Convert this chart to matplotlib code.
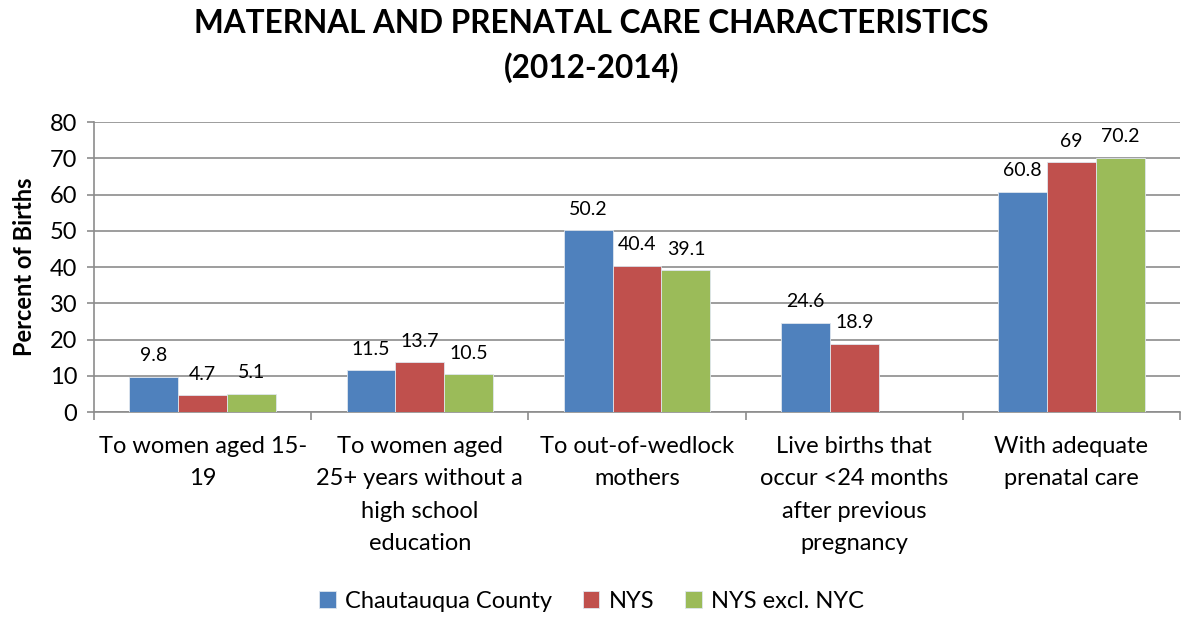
import numpy as np
import matplotlib
matplotlib.use("Agg")
import matplotlib.pyplot as plt

categories = [
    "To women aged 15-\n19",
    "To women aged\n25+ years without a\nhigh school\neducation",
    "To out-of-wedlock\nmothers",
    "Live births that\noccur <24 months\nafter previous\npregnancy",
    "With adequate\nprenatal care",
]
chautauqua = [9.8, 11.5, 50.2, 24.6, 60.8]
nys = [4.7, 13.7, 40.4, 18.9, 69.0]
nys_excl_nyc = [5.1, 10.5, 39.1, np.nan, 70.2]

series = [
    ("Chautauqua County", chautauqua, "#4F81BD"),
    ("NYS", nys, "#C0504D"),
    ("NYS excl. NYC", nys_excl_nyc, "#9BBB59"),
]

plt.rcParams["font.family"] = ["Lato", "DejaVu Sans"]

fig = plt.figure(figsize=(11.83, 6.17), dpi=100)
ax = fig.add_axes([0.0795, 0.332, 0.918, 0.470])

x = np.arange(len(categories))
width = 0.225
for i, (name, vals, color) in enumerate(series):
    pos = x + (i - 1) * width
    ax.bar(pos, vals, width, color=color, label=name,
           edgecolor="#dfe6ee", linewidth=0.6, zorder=3)
    for p, v in zip(pos, vals):
        if np.isnan(v):
            continue
        ax.annotate(f"{v:g}", (p, v), xytext=(0, 9), textcoords="offset points",
                    ha="center", va="bottom", fontsize=14)

ax.set_xlim(-0.5, len(categories) - 0.5)
ax.set_ylim(0, 80)
ax.set_yticks(range(0, 81, 10))
ax.yaxis.grid(True, color="#8c8c8c", linewidth=1.2, zorder=0)
ax.set_axisbelow(True)

ax.set_xticks(x)
ax.set_xticklabels(categories, fontsize=17, linespacing=1.68)
ax.set_xticks(np.arange(-0.5, len(categories), 1), minor=True)
ax.tick_params(axis="x", which="major", length=0, pad=17)
ax.tick_params(axis="x", which="minor", length=6, color="#8c8c8c", width=1.2)
ax.tick_params(axis="y", labelsize=17, length=5, color="#8c8c8c", width=1.2, pad=7)

for s in ["top", "right"]:
    ax.spines[s].set_visible(False)
for s in ["left", "bottom"]:
    ax.spines[s].set_color("#8c8c8c")
    ax.spines[s].set_linewidth(1.2)

ax.set_ylabel("Percent of Births", fontsize=17, fontweight="bold", labelpad=10)

fig.suptitle("MATERNAL AND PRENATAL CARE CHARACTERISTICS\n(2012-2014)",
             x=0.5, y=0.985, fontsize=22.7, fontweight="bold", linespacing=1.55)

fig.legend(loc="lower center", bbox_to_anchor=(0.5, -0.026), ncol=3, frameon=False,
           fontsize=17, handlelength=0.7, handleheight=0.7, columnspacing=1.3,
           handletextpad=0.4)

fig.savefig("out.png", dpi=100)
